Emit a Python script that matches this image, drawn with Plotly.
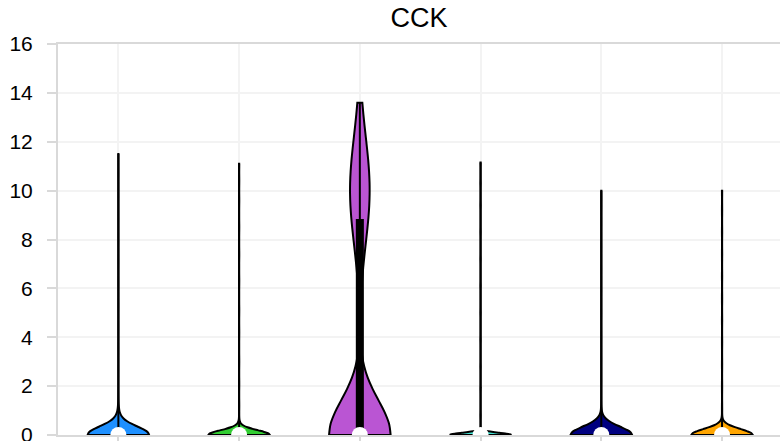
import numpy as np
import plotly.graph_objects as go

# Cluster labels (drawn below the visible area) and violin colours
clusters = ["C1", "C2", "C3", "C4", "C5", "C6"]
colors = ["#1E90FF", "#32CD32", "#BA55D3", "#40E0D0", "#000080", "#FFA500"]

# CCK expression level and number of cells at that level, per cluster
c1_expr = [0.0, 0.3, 0.6, 0.9, 1.7, 2.6, 3.5, 4.4, 5.3, 6.2, 7.1, 8.0, 8.9, 9.8, 10.7, 11.5]
c1_cells = [320, 5, 6, 3, 1, 1, 1, 1, 1, 1, 1, 1, 1, 1, 1, 1]

c2_expr = [0.0, 0.2, 0.4, 1.2, 2.1, 3.0, 4.2, 5.1, 6.3, 7.4, 8.5, 9.6, 10.4, 11.1]
c2_cells = [300, 4, 4, 1, 1, 1, 1, 1, 1, 1, 1, 1, 1, 1]

c3_expr = [0.0, 6.5, 7.0, 7.5, 8.0, 8.5, 8.8, 9.2, 9.6, 10.0, 10.5, 11.0, 11.5,
           12.0, 12.5, 13.0, 13.4, 13.6]
c3_cells = [412, 3, 5, 8, 12, 14, 8, 18, 21, 23, 22, 20, 16, 12, 8, 5, 3, 1]

c4_expr = [0.0, 0.8, 1.9, 2.8, 3.9, 5.0, 6.1, 7.2, 8.3, 9.4, 10.3, 11.15]
c4_cells = [300, 1, 1, 1, 1, 1, 1, 1, 1, 1, 1, 1]

c5_expr = [0.0, 0.5, 1.3, 2.2, 3.1, 4.0, 5.0, 5.9, 6.8, 7.7, 8.6, 9.4, 10.0]
c5_cells = [300, 3, 1, 1, 1, 1, 1, 1, 1, 1, 1, 1, 1]

c6_expr = [0.0, 0.3, 1.1, 2.0, 2.9, 3.8, 4.7, 5.6, 6.5, 7.4, 8.3, 9.2, 10.0]
c6_cells = [300, 3, 1, 1, 1, 1, 1, 1, 1, 1, 1, 1, 1]

# Kernel bandwidth used for each violin's density estimate
kde_bandwidth = [0.34, 0.19, 1.42, 0.09, 0.34, 0.24]

expr_lists = [c1_expr, c2_expr, c3_expr, c4_expr, c5_expr, c6_expr]
cell_lists = [c1_cells, c2_cells, c3_cells, c4_cells, c5_cells, c6_cells]
samples = [np.repeat(np.array(e, dtype=float), c) for e, c in zip(expr_lists, cell_lists)]

q1 = [float(np.percentile(s, 25)) for s in samples]
med = [float(np.median(s)) for s in samples]
q3 = [float(np.percentile(s, 75)) for s in samples]
lo = [float(s.min()) for s in samples]
hi = [float(s.max()) for s in samples]

fig = go.Figure()

for name, s, col, bw in zip(clusters, samples, colors, kde_bandwidth):
    fig.add_trace(go.Violin(
        x=[name] * len(s), y=s, name=name,
        fillcolor=col, opacity=1,
        line=dict(color="black", width=2),
        bandwidth=bw, spanmode="hard", scalemode="width",
        width=0.51, points=False, box_visible=False,
        meanline_visible=False, hoverinfo="skip", showlegend=False,
    ))

# Inner box: quartiles as a thick bar, whiskers from min to max
fig.add_trace(go.Box(
    x=clusters, q1=q1, median=med, q3=q3, lowerfence=lo, upperfence=hi,
    orientation="v", width=0.05, whiskerwidth=0, boxpoints=False,
    fillcolor="black", line=dict(color="black", width=2),
    hoverinfo="skip", showlegend=False,
))

# Median marker
fig.add_trace(go.Scatter(
    x=clusters, y=med, mode="markers",
    marker=dict(color="white", size=16, line=dict(width=0)),
    hoverinfo="skip", showlegend=False,
))

axis_line = "#d9d9d9"
grid = "#f3f3f3"

fig.update_layout(
    width=780, height=441,
    margin=dict(l=58, r=0, t=44, b=6),
    paper_bgcolor="white", plot_bgcolor="white",
    font=dict(family="Arial, 'Liberation Sans', sans-serif", size=21, color="black"),
    title=dict(text="CCK", x=0.5, xref="paper", xanchor="center",
               y=1 - 18 / 441, yref="container", yanchor="middle",
               font=dict(size=27, color="black")),
    violinmode="overlay", boxmode="overlay",
    xaxis=dict(
        type="category", range=[-0.5, 5.48], automargin=False,
        showgrid=True, gridcolor=grid, gridwidth=2,
        showline=True, linecolor=axis_line, linewidth=2, mirror=True,
        ticks="outside", ticklen=8, tickwidth=2, tickcolor=axis_line,
        showticklabels=False, zeroline=False,
    ),
    yaxis=dict(
        range=[0, 16], tick0=0, dtick=2, automargin=False,
        showgrid=True, gridcolor=grid, gridwidth=2,
        showline=True, linecolor=axis_line, linewidth=2,
        ticks="outside", ticklen=9, tickwidth=2, tickcolor=axis_line,
        ticklabelstandoff=10, ticklabeloverflow="allow", zeroline=False,
    ),
)

fig.write_html("out.html")
